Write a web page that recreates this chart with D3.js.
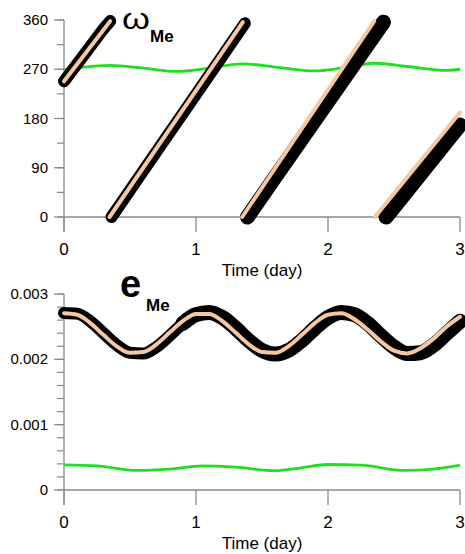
<!DOCTYPE html>
<html>
<head>
<meta charset="utf-8">
<script src="https://cdn.jsdelivr.net/npm/d3@7"></script>
<style>
  body { margin: 0; background: #fff; }
  text { font-family: "Liberation Sans", Arial, sans-serif; }
</style>
</head>
<body>
<div id="chart"></div>
<script>
// ---- data ----
var dayTicks = [0, 1, 2, 3];
var omegaTicks = [0, 90, 180, 270, 360];
var eTicks = [0, 0.001, 0.002, 0.003];

// omega, numerical (black), wraps at 360
var omegaNumT = [0, 0.1, 0.2, 0.3, 0.35, 0.36, 0.5, 0.75, 1.0, 1.25, 1.37, 1.39, 1.6, 1.8, 2.0, 2.2, 2.42, 2.44, 2.6, 2.8, 3.0];
var omegaNumV = [248, 280, 312, 344, 358, 0, 49, 137, 224, 312, 354, 0, 73, 142, 211, 280, 356, 0, 48, 108, 168];
// omega, analytic (salmon)
var omegaAnaT = [0, 0.35, 0.345, 1.355, 1.35, 2.35, 2.355, 3.0];
var omegaAnaV = [248, 358, 0, 356, 0, 358, 0, 191];
// omega, green
var omegaGrT = [0, 0.15, 0.35, 0.6, 0.85, 1.1, 1.35, 1.6, 1.9, 2.1, 2.35, 2.6, 2.9, 3.0];
var omegaGrV = [269, 274, 277, 272, 266, 272, 280, 274, 267, 272, 281, 275, 268, 270];

// eccentricity
var eT = [0, 0.1, 0.2, 0.3, 0.4, 0.5, 0.6, 0.7, 0.8, 0.9, 1.0, 1.1, 1.2, 1.3, 1.4, 1.5,
          1.6, 1.7, 1.8, 1.9, 2.0, 2.1, 2.2, 2.3, 2.4, 2.5, 2.6, 2.7, 2.8, 2.9, 3.0];
var eNum = [0.002711, 0.002699, 0.002582, 0.002400, 0.002218, 0.002101, 0.002089, 0.002188,
            0.002361, 0.002549, 0.002683, 0.002718, 0.002640, 0.002476, 0.002286, 0.002137,
            0.002080, 0.002137, 0.002286, 0.002476, 0.002640, 0.002718, 0.002683, 0.002549,
            0.002361, 0.002188, 0.002089, 0.002101, 0.002218, 0.002400, 0.002582];
var eAna = [0.002705, 0.002682, 0.002555, 0.002371, 0.002198, 0.002099, 0.002111, 0.002229,
            0.002409, 0.002585, 0.002695, 0.002695, 0.002585, 0.002409, 0.002229, 0.002111,
            0.002099, 0.002198, 0.002371, 0.002555, 0.002682, 0.002705, 0.002614, 0.002457,
            0.002274, 0.002132, 0.002091, 0.002169, 0.002317, 0.002503, 0.002652];
var eGrT = [0, 0.25, 0.55, 0.8, 1.05, 1.3, 1.6, 1.8, 2.0, 2.25, 2.58, 2.8, 3.0];
var eGrV = [0.000385, 0.00037, 0.0003, 0.00032, 0.00037, 0.00035, 0.000295, 0.00034, 0.00039, 0.00038, 0.0003, 0.00032, 0.00038];

var width = 465, height = 554;
var left = 64, right = 460;
var axisColor = "#8a8a8a";
var black = "#000", salmon = "#f6c7a1", green = "#1fe01f";

var svg = d3.select("#chart").append("svg")
    .attr("width", width)
    .attr("height", height);

var x = d3.scaleLinear().domain([0, 3]).range([left, right]);

function zip(ts, vs) { return ts.map(function(t, i) { return [t, vs[i]]; }); }

// split a wrapped series into pieces where it jumps back down
function splitWrap(pts) {
    var segs = [[pts[0]]];
    for (var i = 1; i < pts.length; i++) {
        if (pts[i][1] < pts[i - 1][1] - 180) segs.push([]);
        segs[segs.length - 1].push(pts[i]);
    }
    return segs;
}

function panel(g, y, top, bottom, majors, minors, fmt) {
    // y axis line, runs down past the x axis
    g.append("line")
        .attr("x1", left).attr("x2", left)
        .attr("y1", top).attr("y2", bottom + 15)
        .attr("stroke", axisColor).attr("stroke-width", 1.3);
    // x axis line
    g.append("line")
        .attr("x1", left).attr("x2", right)
        .attr("y1", bottom).attr("y2", bottom)
        .attr("stroke", axisColor).attr("stroke-width", 1.3);

    g.selectAll(".ymin").data(minors).enter().append("line")
        .attr("x1", left - 7).attr("x2", left)
        .attr("y1", function(d) { return y(d); }).attr("y2", function(d) { return y(d); })
        .attr("stroke", axisColor).attr("stroke-width", 1.2);
    g.selectAll(".ymaj").data(majors).enter().append("line")
        .attr("x1", left - 10).attr("x2", left)
        .attr("y1", function(d) { return y(d); }).attr("y2", function(d) { return y(d); })
        .attr("stroke", axisColor).attr("stroke-width", 1.2);
    g.selectAll(".ylab").data(majors).enter().append("text")
        .attr("x", left - 16)
        .attr("y", function(d) { return y(d) + 5; })
        .attr("text-anchor", "end")
        .attr("font-size", 15)
        .text(fmt);

    g.selectAll(".xt").data(dayTicks).enter().append("line")
        .attr("x1", function(d) { return x(d); }).attr("x2", function(d) { return x(d); })
        .attr("y1", bottom).attr("y2", bottom + 15)
        .attr("stroke", axisColor).attr("stroke-width", 1.3);
    g.selectAll(".xl").data(dayTicks).enter().append("text")
        .attr("x", function(d) { return x(d); })
        .attr("y", bottom + 38)
        .attr("text-anchor", "middle")
        .attr("font-size", 17)
        .text(function(d) { return d; });
    g.append("text")
        .attr("x", 262).attr("y", bottom + 59)
        .attr("text-anchor", "middle")
        .attr("font-size", 17)
        .text("Time (day)");
}

//
// top panel: omega
//
var yW = d3.scaleLinear().domain([0, 360]).range([217, 20]);
var gW = svg.append("g");
panel(gW, yW, 20, 217, omegaTicks, d3.range(0, 361, 45), function(d) { return d; });

var lineW = d3.line()
    .x(function(d) { return x(d[0]); })
    .y(function(d) { return yW(d[1]); });

gW.append("path")
    .datum(zip(omegaGrT, omegaGrV))
    .attr("fill", "none").attr("stroke", green).attr("stroke-width", 2.8)
    .attr("d", lineW.curve(d3.curveMonotoneX));
lineW.curve(d3.curveLinear);

splitWrap(zip(omegaNumT, omegaNumV)).forEach(function(seg, i) {
    gW.append("path")
        .datum(seg)
        .attr("fill", "none").attr("stroke", black)
        .attr("stroke-width", i < 2 ? 12 : 15)
        .attr("stroke-linecap", "round")
        .attr("d", lineW);
});
splitWrap(zip(omegaAnaT, omegaAnaV)).forEach(function(seg) {
    gW.append("path")
        .datum(seg)
        .attr("fill", "none").attr("stroke", salmon)
        .attr("stroke-width", 4)
        .attr("stroke-linecap", "round")
        .attr("d", lineW);
});

gW.append("text")
    .attr("x", 122).attr("y", 29)
    .attr("font-family", "DejaVu Serif, serif")
    .attr("font-size", 30)
    .attr("textLength", 28).attr("lengthAdjust", "spacingAndGlyphs")
    .text("ω");
gW.append("text")
    .attr("x", 150).attr("y", 42)
    .attr("font-size", 17).attr("font-weight", "bold")
    .text("Me");

//
// bottom panel: eccentricity
//
var yE = d3.scaleLinear().domain([0, 0.003]).range([490, 294]);
var gE = svg.append("g");
panel(gE, yE, 294, 490, eTicks, d3.range(0, 0.00301, 0.0002), function(d) { return d === 0 ? "0" : d3.format(".3f")(d); });

var lineE = d3.line()
    .x(function(d) { return x(d[0]); })
    .y(function(d) { return yE(d[1]); })
    .curve(d3.curveMonotoneX);

gE.append("path")
    .datum(zip(eGrT, eGrV))
    .attr("fill", "none").attr("stroke", green).attr("stroke-width", 2.8)
    .attr("d", lineE);

var eNumPts = zip(eT, eNum);
gE.append("path")
    .datum(eNumPts)
    .attr("fill", "none").attr("stroke", black).attr("stroke-width", 12)
    .attr("stroke-linecap", "round")
    .attr("d", lineE);
gE.append("path")
    .datum(eNumPts.filter(function(d) { return d[0] >= 0.9; }))
    .attr("fill", "none").attr("stroke", black).attr("stroke-width", 15)
    .attr("stroke-linecap", "round")
    .attr("d", lineE);
gE.append("path")
    .datum(zip(eT, eAna))
    .attr("fill", "none").attr("stroke", salmon).attr("stroke-width", 4)
    .attr("stroke-linecap", "round")
    .attr("d", lineE);

gE.append("text")
    .attr("x", 120).attr("y", 297)
    .attr("font-size", 38).attr("font-weight", "bold")
    .text("e");
gE.append("text")
    .attr("x", 146).attr("y", 311)
    .attr("font-size", 17).attr("font-weight", "bold")
    .text("Me");
</script>
</body>
</html>
